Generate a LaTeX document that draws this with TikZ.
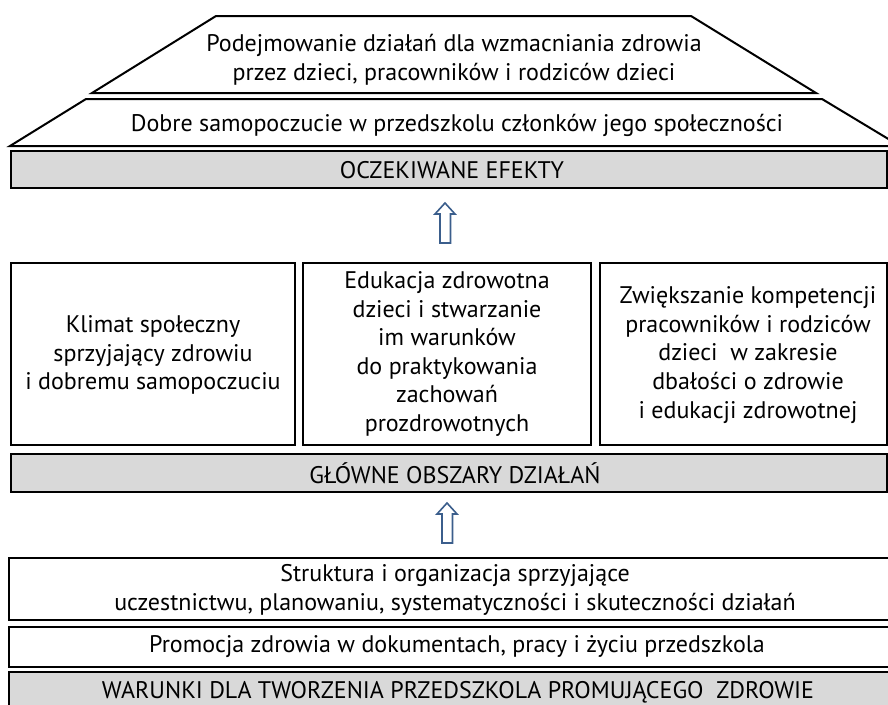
\documentclass[tikz,border=0pt]{standalone}
\usepackage{fontspec}
\setmainfont{PT Sans}
\definecolor{barfill}{HTML}{D9D9D9}
\definecolor{arrowblue}{HTML}{3B5E8C}
\begin{document}
\begin{tikzpicture}[x=1pt,y=-1pt,
  frame/.style={draw=black,line width=2pt,line join=miter},
  bar/.style={frame,fill=barfill},
  txt/.style={align=center,font=\fontsize{24}{28.6}\selectfont,inner sep=0pt},
  bigarrow/.style={draw=arrowblue,line width=1.6pt,fill=white,line join=miter}]
\useasboundingbox (0,0) rectangle (888,704);
% top trapezoids
\draw[frame] (92,93) -- (216,16) -- (691,16) -- (816,93) -- cycle;
\draw[frame] (10,146) -- (86,99) -- (822,99) -- (900,146) -- cycle;
\node[txt] (t1) at (454,60) {Podejmowanie działań dla wzmacniania zdrowia\\przez dzieci, pracowników i rodziców dzieci};
\node[txt] (t2) at (457,125) {Dobre samopoczucie w przedszkolu członków jego społeczności};
% expected effects bar
\draw[bar] (11,151) rectangle (887,188);
\node[txt] (efekty) at (452,170) {OCZEKIWANE EFEKTY};
% arrow 1
\draw[bigarrow] (445,203) -- (455,214) -- (450.5,214) -- (450.5,243) -- (440,243) -- (440,214) -- (435,214) -- cycle;
% middle boxes
\draw[frame] (11,263) rectangle (295,445);
\draw[frame] (303,263) rectangle (591,445);
\draw[frame] (600,263) rectangle (887,445);
\node[txt] (b1) at (153,355) {Klimat społeczny\\sprzyjający zdrowiu\\i dobremu samopoczuciu};
\node[txt] (b2) at (447,354) {Edukacja zdrowotna\\dzieci i stwarzanie\\im warunków\\do praktykowania\\zachowań\\prozdrowotnych};
\node[txt] (b3) at (748,355) {Zwiększanie kompetencji\\pracowników i rodziców\\dzieci\ \ w zakresie\\dbałości o zdrowie\\i edukacji zdrowotnej};
% main areas bar
\draw[bar] (11,454) rectangle (887,492);
\node[txt] (obszary) at (455,473) {GŁÓWNE OBSZARY DZIAŁAŃ};
% arrow 2
\draw[bigarrow] (447,503) -- (457,514) -- (452.5,514) -- (452.5,543) -- (442,543) -- (442,514) -- (437,514) -- cycle;
% bottom boxes
\draw[frame] (9,558) rectangle (892,620);
\node[txt] (struktura) at (455,590) {Struktura i organizacja sprzyjające\\uczestnictwu, planowaniu, systematyczności i skuteczności działań};
\draw[frame] (9,627) rectangle (892,667);
\node[txt] (promocja) at (457,647) {Promocja zdrowia w dokumentach, pracy i życiu przedszkola};
\draw[bar] (9,672) rectangle (892,712);
\node[txt] (warunki) at (458,692) {WARUNKI DLA TWORZENIA PRZEDSZKOLA PROMUJĄCEGO\ \ ZDROWIE};
\end{tikzpicture}
\end{document}
